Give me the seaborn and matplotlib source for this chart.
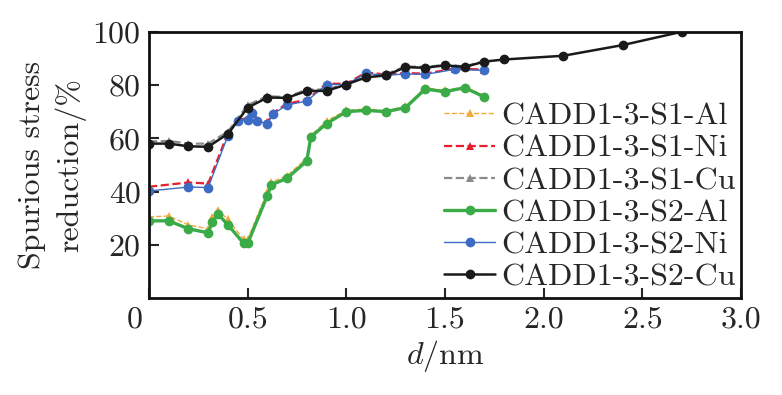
import numpy as np
import pandas as pd
import matplotlib
matplotlib.use("Agg")
import matplotlib.pyplot as plt
import matplotlib.transforms as mtransforms
import seaborn as sns

# data
x_al = [0.0, 0.1, 0.2, 0.3, 0.32, 0.35, 0.4, 0.48, 0.5, 0.6, 0.62, 0.7, 0.8,
        0.82, 0.9, 1.0, 1.1, 1.2, 1.3, 1.4, 1.5, 1.6, 1.7]
s1_al = [30.5, 30.8, 27.5, 26.0, 30.5, 33.0, 29.5, 22.0, 22.0, 40.0, 43.5, 46.0,
         52.5, 61.0, 66.5, 70.5, 71.0, 70.3, 72.0, 79.0, 78.0, 79.3, 76.0]
s2_al = [29.0, 29.0, 26.0, 24.5, 28.5, 31.5, 27.5, 20.5, 20.5, 38.5, 42.5, 45.0,
         51.5, 60.5, 65.5, 70.0, 70.5, 70.0, 71.5, 78.5, 77.5, 79.0, 75.5]

x_ni = [0.0, 0.2, 0.3, 0.4, 0.45, 0.5, 0.52, 0.55, 0.6, 0.63, 0.7, 0.8, 0.9,
        1.0, 1.1, 1.2, 1.3, 1.4, 1.55, 1.7]
s1_ni = [41.8, 43.4, 43.0, 62.0, 67.0, 67.5, 70.0, 67.0, 66.0, 69.6, 73.0, 74.5,
         80.5, 80.5, 84.7, 84.0, 84.5, 84.3, 86.2, 85.8]
s2_ni = [40.2, 41.7, 41.5, 61.0, 66.5, 67.0, 69.6, 66.5, 65.5, 69.2, 72.5, 74.0,
         80.2, 80.2, 84.4, 83.6, 84.2, 84.0, 85.9, 85.5]

x_cu1 = [0.0, 0.1, 0.2, 0.3, 0.4, 0.5, 0.6, 0.7, 0.8, 0.9, 1.0, 1.1, 1.2, 1.3,
         1.4, 1.5, 1.6, 1.7]
s1_cu = [58.8, 59.0, 58.0, 58.0, 62.5, 72.5, 75.8, 75.5, 78.3, 78.3, 80.5, 83.2,
         84.0, 87.0, 86.8, 87.6, 87.0, 89.0]
x_cu2 = [0.0, 0.1, 0.2, 0.3, 0.4, 0.5, 0.6, 0.7, 0.8, 0.9, 1.0, 1.1, 1.2, 1.3,
         1.4, 1.5, 1.6, 1.7, 1.8, 2.1, 2.4, 2.7]
s2_cu = [58.0, 58.0, 57.0, 56.8, 61.7, 71.5, 75.3, 75.2, 77.8, 77.8, 80.2, 82.9,
         83.6, 86.7, 86.5, 87.4, 86.8, 88.8, 89.6, 91.0, 95.0, 100.0]

series = [
    ("CADD1-3-S1-Al", x_al, s1_al, "#f2a93b", "--", "^", 1.0, 6),
    ("CADD1-3-S1-Ni", x_ni, s1_ni, "#e5202e", "--", "^", 1.6, 6),
    ("CADD1-3-S1-Cu", x_cu1, s1_cu, "#8a8a8a", "--", "^", 1.6, 6),
    ("CADD1-3-S2-Al", x_al, s2_al, "#3aab47", "-", "o", 2.4, 7),
    ("CADD1-3-S2-Ni", x_ni, s2_ni, "#3d6cc4", "-", "o", 1.0, 7),
    ("CADD1-3-S2-Cu", x_cu2, s2_cu, "#1a1a1a", "-", "o", 1.8, 7),
]

x_ticks = [0, 0.5, 1.0, 1.5, 2.0, 2.5, 3.0]
x_labels = ["0", "0.5", "1.0", "1.5", "2.0", "2.5", "3.0"]
y_ticks = [20, 40, 60, 80, 100]

sns.set_style("ticks")
plt.rcParams["font.family"] = ["cmr10", "DejaVu Serif"]
plt.rcParams["mathtext.fontset"] = "cm"
plt.rcParams["axes.unicode_minus"] = False

fig = plt.figure(figsize=(7.82, 3.95), dpi=100)
ax = fig.add_axes([0.1905, 0.2455, 0.757, 0.674])

for name, xs, ys, col, ls, mk, lw, ms in series:
    df = pd.DataFrame({"d": xs, "r": ys})
    sns.lineplot(data=df, x="d", y="r", ax=ax, color=col, linestyle=ls,
                 linewidth=lw, marker=mk, markersize=ms, markeredgewidth=0,
                 label=name, sort=False)

ax.set_xlim(0, 3.0)
ax.set_ylim(0, 100)
ax.set_xticks(x_ticks)
ax.set_xticklabels(x_labels)
ax.set_yticks(y_ticks)
ax.set_yticklabels([str(v) for v in y_ticks])
ax.tick_params(direction="in", length=7, width=1.5, labelsize=23, pad=6)
for sp in ax.spines.values():
    sp.set_linewidth(2)
    sp.set_color("#111111")

# the "0" on the x axis sits a bit left of the corner in the original
first = ax.get_xticklabels()[0]
first.set_transform(first.get_transform() +
                    mtransforms.ScaledTranslation(-0.14, 0, fig.dpi_scale_trans))

ax.set_xlabel(r"$d/\mathrm{nm}$", fontsize=23, labelpad=3)
ax.set_ylabel("Spurious stress\nreduction/%", fontsize=23, labelpad=5,
              linespacing=1.35)

leg = ax.legend(loc="lower right", bbox_to_anchor=(1.03, -0.06), frameon=False,
                fontsize=23, handlelength=1.6, handletextpad=0.2,
                labelspacing=0.12, borderpad=0.2)

fig.savefig("out.png", dpi=100)
